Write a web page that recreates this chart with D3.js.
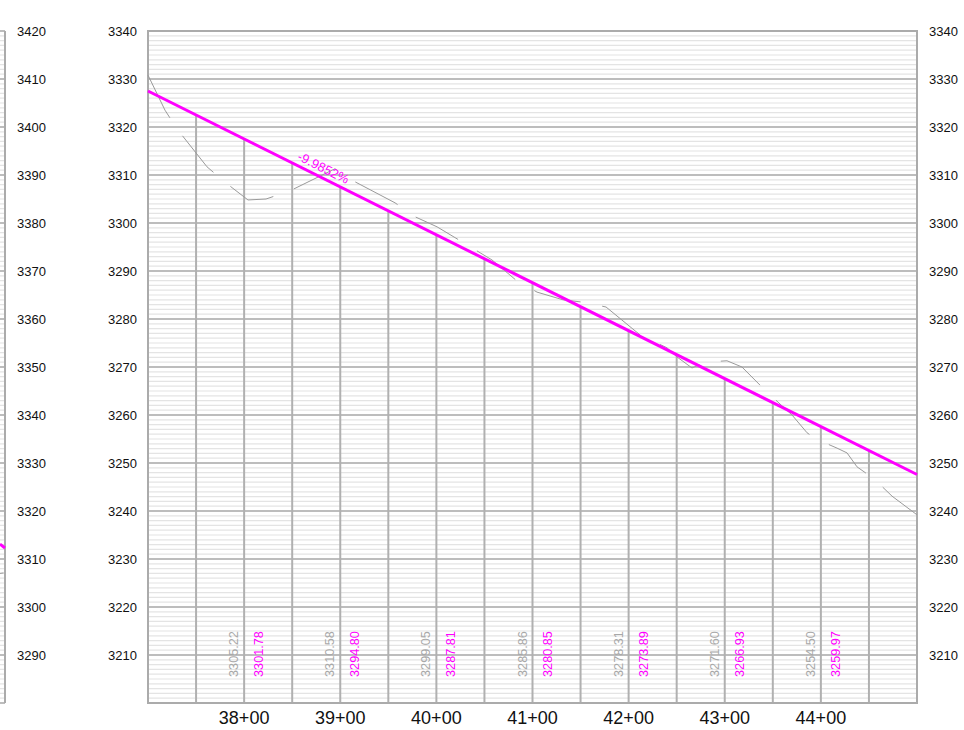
<!DOCTYPE html>
<html>
<head>
<meta charset="utf-8">
<script src="https://cdn.jsdelivr.net/npm/d3@7"></script>
<style>
  body { margin: 0; background: #fff; }
  svg { display: block; font-family: "Liberation Sans", Arial, sans-serif; }
</style>
</head>
<body>
<div id="chart"></div>
<script>
// station labels under the profile
var stations = [3800, 3900, 4000, 4100, 4200, 4300, 4400];
var stationLabels = ["38+00", "39+00", "40+00", "41+00", "42+00", "43+00", "44+00"];
// elevations printed at each station
var groundLabels = ["3305.22", "3310.58", "3299.05", "3285.86", "3278.31", "3271.60", "3254.50"];
var gradeLabels = ["3301.78", "3294.80", "3287.81", "3280.85", "3273.89", "3266.93", "3259.97"];

// grid lines every 50 ft
var gridStations = [3750, 3800, 3850, 3900, 3950, 4000, 4050, 4100, 4150, 4200, 4250, 4300, 4350, 4400, 4450];

// elevation tick labels
var mainTicks = [3210, 3220, 3230, 3240, 3250, 3260, 3270, 3280, 3290, 3300, 3310, 3320, 3330, 3340];
var leftTicks = [3290, 3300, 3310, 3320, 3330, 3340, 3350, 3360, 3370, 3380, 3390, 3400, 3410, 3420];

// existing ground (station, elevation)
var groundSta = [3700, 3717.7, 3730.2, 3761.4, 3780.1, 3804.0, 3822.8, 3847.7, 3894.5, 3913.3, 3957.0, 3977.8,
  4000.7, 4021.5, 4057.9, 4082.8, 4104.7, 4131.7, 4152.5, 4176.5, 4211.8, 4239.9, 4250.3, 4265.9, 4279.5,
  4302.3, 4317.9, 4340.8, 4359.6, 4370.0, 4385.6, 4394.9, 4416.8, 4427.2, 4437.6, 4455.3, 4474.0, 4500];
var groundEl = [3330.8, 3323.5, 3319.6, 3311.7, 3308.5, 3304.8, 3305.0, 3306.7, 3311.3, 3308.8, 3304.2, 3301.3,
  3299.2, 3296.7, 3292.3, 3288.1, 3285.6, 3284.0, 3283.5, 3282.5, 3276.7, 3274.0, 3272.1, 3269.8, 3271.0,
  3271.3, 3270.0, 3265.4, 3261.9, 3260.0, 3256.3, 3255.0, 3253.1, 3252.1, 3249.2, 3246.7, 3243.1, 3239.2];

// proposed grade
var gradeSta = [3700, 4500];
var gradeEl = [3327.5, 3247.6];
var gradeText = "-9.9852%";
var gradeTextSta = 3878;

// previous sheet, only its right edge shows
var prevGradeSta = [3694.8, 3700];
var prevGradeEl = [3313.1, 3312.3];
var prevGroundSta = [3694.8, 3698.5];
var prevGroundEl = [3307.0, 3307.1];

var W = 964, H = 730;
var plotTop = 31, plotBottom = 703;

var svg = d3.select("#chart").append("svg")
  .attr("width", W)
  .attr("height", H);

var x = d3.scaleLinear().domain([3700, 4500]).range([148, 917]);
var y = d3.scaleLinear().domain([3200, 3340]).range([plotBottom, plotTop]);
var xL = d3.scaleLinear().domain([2900, 3700]).range([-764, 5]);
var yL = d3.scaleLinear().domain([3280, 3420]).range([plotBottom, plotTop]);

function drawGrid(g, xs, ys) {
  var x0 = xs.range()[0], x1 = xs.range()[1];
  var minor = d3.range(ys.domain()[0], ys.domain()[1] + 0.5, 1);
  g.selectAll(".minor").data(minor).enter().append("line")
    .attr("x1", x0).attr("x2", x1)
    .attr("y1", function(d) { return ys(d); })
    .attr("y2", function(d) { return ys(d); })
    .attr("stroke", "#e4e4e4")
    .attr("stroke-width", 1.2);
  var major = minor.filter(function(d) { return d % 10 === 0; });
  g.selectAll(".major").data(major).enter().append("line")
    .attr("x1", x0).attr("x2", x1)
    .attr("y1", function(d) { return ys(d); })
    .attr("y2", function(d) { return ys(d); })
    .attr("stroke", "#ababab")
    .attr("stroke-width", 1.5);
}

// left (previous) panel
var gL = svg.append("g");
drawGrid(gL, xL, yL);
gL.append("line")
  .attr("x1", 5).attr("x2", 5).attr("y1", plotTop).attr("y2", plotBottom)
  .attr("stroke", "#ababab").attr("stroke-width", 2);
gL.append("path")
  .attr("d", d3.line()(prevGroundSta.map(function(s, i) { return [xL(s), yL(prevGroundEl[i])]; })))
  .attr("fill", "none").attr("stroke", "#9a9a9a").attr("stroke-width", 1);
gL.append("path")
  .attr("d", d3.line()(prevGradeSta.map(function(s, i) { return [xL(s), yL(prevGradeEl[i])]; })))
  .attr("fill", "none").attr("stroke", "#ff00ff").attr("stroke-width", 3);

gL.selectAll(".ytl").data(leftTicks).enter().append("text")
  .attr("x", 46)
  .attr("y", function(d) { return yL(d); })
  .attr("dy", "0.35em")
  .attr("text-anchor", "end")
  .attr("font-size", 13)
  .attr("fill", "#111")
  .text(function(d) { return d; });

// main panel
var g = svg.append("g");
drawGrid(g, x, y);

// station lines hang from the grade line
var gradeAt = d3.scaleLinear().domain(gradeSta).range(gradeEl);
g.selectAll(".vline").data(gridStations).enter().append("line")
  .attr("x1", function(d) { return x(d); })
  .attr("x2", function(d) { return x(d); })
  .attr("y1", function(d) { return y(gradeAt(d)); })
  .attr("y2", plotBottom)
  .attr("stroke", "#b0b0b0")
  .attr("stroke-width", 2);

// frame
g.append("rect")
  .attr("x", x(3700)).attr("y", plotTop)
  .attr("width", x(4500) - x(3700)).attr("height", plotBottom - plotTop)
  .attr("fill", "none")
  .attr("stroke", "#ababab")
  .attr("stroke-width", 2);

// existing ground
g.append("path")
  .attr("d", d3.line()(groundSta.map(function(s, i) { return [x(s), y(groundEl[i])]; })))
  .attr("fill", "none")
  .attr("stroke", "#9a9a9a")
  .attr("stroke-width", 1)
  .attr("stroke-dasharray", "48,22");

// proposed grade
g.append("path")
  .attr("d", d3.line()(gradeSta.map(function(s, i) { return [x(s), y(gradeEl[i])]; })))
  .attr("fill", "none")
  .attr("stroke", "#ff00ff")
  .attr("stroke-width", 3);

var ang = Math.atan2(y(gradeEl[1]) - y(gradeEl[0]), x(gradeSta[1]) - x(gradeSta[0])) * 180 / Math.PI;
g.append("text")
  .attr("transform", "translate(" + x(gradeTextSta) + "," + y(gradeAt(gradeTextSta)) + ") rotate(" + ang + ")")
  .attr("y", -5)
  .attr("text-anchor", "middle")
  .attr("font-size", 13)
  .attr("fill", "#ff00ff")
  .text(gradeText);

// elevation labels at stations
g.selectAll(".gl").data(stations).enter().append("text")
  .attr("transform", function(d) { return "translate(" + (x(d) - 6) + ",654) rotate(-90)"; })
  .attr("text-anchor", "middle")
  .attr("font-size", 12.7)
  .attr("fill", "#a8a8a8")
  .text(function(d, i) { return groundLabels[i]; });
g.selectAll(".pl").data(stations).enter().append("text")
  .attr("transform", function(d) { return "translate(" + (x(d) + 19) + ",654) rotate(-90)"; })
  .attr("text-anchor", "middle")
  .attr("font-size", 12.7)
  .attr("fill", "#ff00ff")
  .text(function(d, i) { return gradeLabels[i]; });

// station labels
g.selectAll(".sl").data(stations).enter().append("text")
  .attr("x", function(d) { return x(d); })
  .attr("y", 724)
  .attr("text-anchor", "middle")
  .attr("font-size", 18)
  .attr("fill", "#111")
  .text(function(d, i) { return stationLabels[i]; });

// elevation labels both sides
g.selectAll(".yl").data(mainTicks).enter().append("text")
  .attr("x", 137)
  .attr("y", function(d) { return y(d); })
  .attr("dy", "0.35em")
  .attr("text-anchor", "end")
  .attr("font-size", 13)
  .attr("fill", "#111")
  .text(function(d) { return d; });
g.selectAll(".yr").data(mainTicks).enter().append("text")
  .attr("x", 929)
  .attr("y", function(d) { return y(d); })
  .attr("dy", "0.35em")
  .attr("text-anchor", "start")
  .attr("font-size", 13)
  .attr("fill", "#111")
  .text(function(d) { return d; });
</script>
</body>
</html>
